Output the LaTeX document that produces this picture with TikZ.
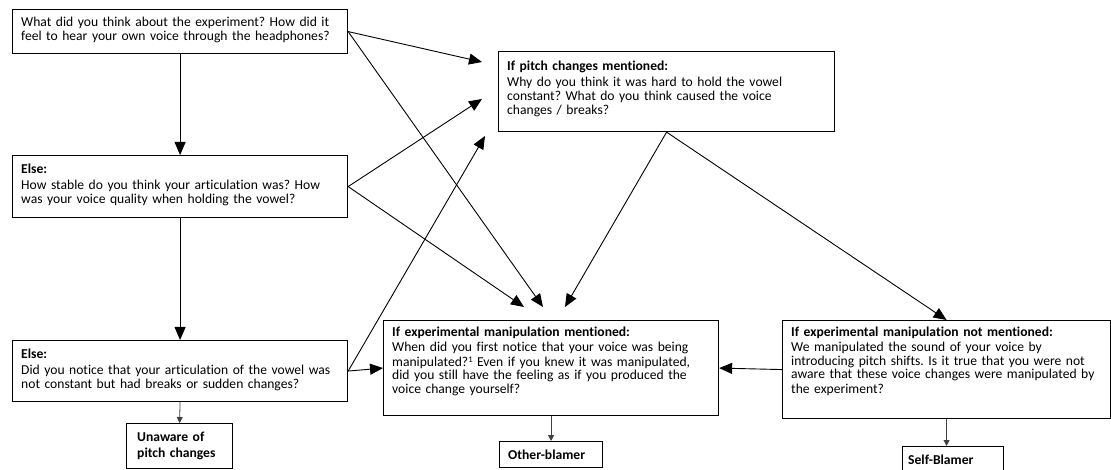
\documentclass[tikz,border=0pt]{standalone}
\usepackage{fontspec}
\setmainfont{Carlito}[Ligatures=CommonOff]
\usetikzlibrary{arrows.meta}
\AtBeginDocument{\lineskiplimit=-20pt\relax\frenchspacing\hyphenpenalty=10000\exhyphenpenalty=10000}
\newcommand{\supone}{\raisebox{3.6pt}{\fontsize{8.5}{8.5}\selectfont 1}}
\begin{document}
\begin{tikzpicture}[x=1pt,y=-1pt,
  box/.style={draw, line width=1.15pt, inner sep=0pt, anchor=north west},
  txt/.style={anchor=base west, inner sep=0pt, align=left, font=\fontsize{13.6}{14}\selectfont\frenchspacing},
  conn/.style={line width=0.9pt, -{Triangle[length=13pt,width=11pt]}},
  leafconn/.style={line width=0.8pt, draw=black!75, -{Triangle[length=6pt,width=6pt]}}]
\clip (0,0) rectangle (1111,470);
% boxes
\node[box, minimum width=335pt, minimum height=44pt] (A) at (12,9) {};
\node[box, minimum width=335pt, minimum height=62pt] (B) at (12,155) {};
\node[box, minimum width=335pt, minimum height=61pt] (C) at (12,340) {};
\node[box, minimum width=106pt, minimum height=45pt] (D) at (126,423) {};
\node[box, minimum width=336pt, minimum height=80pt] (E) at (498,51) {};
\node[box, minimum width=335pt, minimum height=95pt] (F) at (383,320) {};
\node[box, minimum width=103pt, minimum height=26pt] (G) at (499,441) {};
\node[box, minimum width=328pt, minimum height=98pt] (H) at (782,320) {};
\node[box, minimum width=101pt, minimum height=45pt] (I) at (902,446) {};
% texts
\node[txt, text width=325pt] (At) at (21,27) {What did you think about the experiment? How did it\\feel to hear your own voice through the headphones?};
\node[txt, text width=325pt] (Bt) at (21,174) {\textbf{Else:}\\[2pt]How stable do you think your articulation was? How\\was your voice quality when holding the vowel?};
\node[txt, text width=325pt] (Ct) at (21,358) {\textbf{Else:}\\[2pt]Did you notice that your articulation of the vowel was\\not constant but had breaks or sudden changes?};
\node[txt, text width=95pt] (Dt) at (137,441) {\textbf{Unaware of}\\[2pt]\textbf{pitch changes}};
\node[txt, text width=325pt] (Et) at (507,71) {\textbf{If pitch changes mentioned:}\\[2pt]Why do you think it was hard to hold the vowel\\constant? What do you think caused the voice\\changes / breaks?};
\node[txt, text width=325pt] (Ft) at (392,337) {\textbf{If experimental manipulation mentioned:}\\[1pt]When did you first notice that your voice was being\\manipulated?\supone{} Even if you knew it was manipulated,\\did you still have the feeling as if you produced the\\voice change yourself?};
\node[txt, text width=318pt] (Ht) at (791,336) {\textbf{If experimental manipulation not mentioned:}\\[1pt]We manipulated the sound of your voice by\\introducing pitch shifts. Is it true that you were not\\aware that these voice changes were manipulated by\\the experiment?};
\node[txt, text width=95pt] (Gt) at (508,459) {\textbf{Other-blamer}};
\node[txt, text width=95pt] (It) at (908,464) {\textbf{Self-Blamer}};
% arrow tip points
\coordinate (tE1) at (482,62);
\coordinate (tE2) at (482,99);
\coordinate (tE3) at (485,136);
\coordinate (tF1) at (524,307);
\coordinate (tF2) at (543,307);
\coordinate (tF3) at (565,307);
% connectors
\draw[conn] (A.south) -- (B.north);
\draw[conn] (B.south) -- (C.north);
\draw[conn] (A.east) -- (tE1);
\draw[conn] (A.east) -- (tF2);
\draw[conn] (B.east) -- (tE2);
\draw[conn] (B.east) -- (tF1);
\draw[conn] (C.east) -- (tE3);
\draw[conn] (C.east) -- (F.west);
\draw[conn] (E.south) -- (tF3);
\draw[conn] (E.south) -- (H.north);
\draw[conn] (H.west) -- (F.east);
\draw[leafconn] (C.south) -- (D.north);
\draw[leafconn] (F.south) -- (G.north);
\draw[leafconn] (H.south) -- (H.south |- I.north);
\end{tikzpicture}
\end{document}
